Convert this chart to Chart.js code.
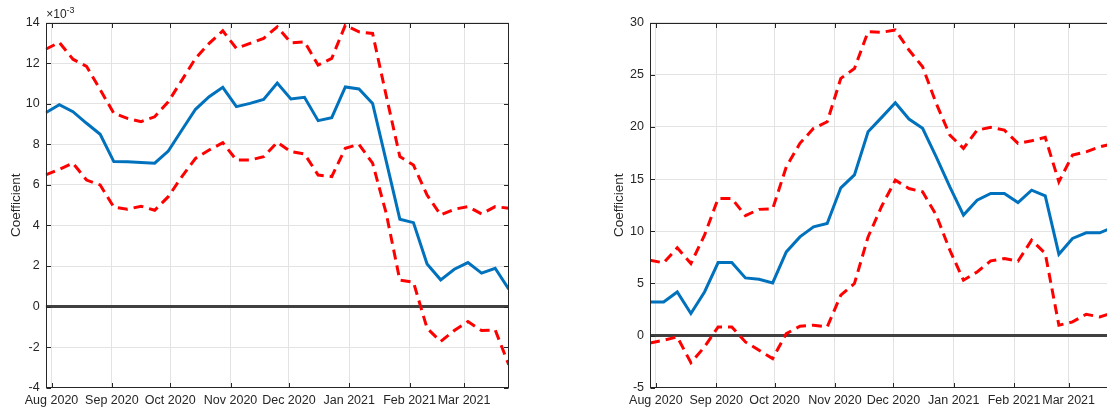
<!DOCTYPE html>
<html>
<head>
<meta charset="utf-8">
<title>Coefficient paths</title>
<script src="https://cdn.jsdelivr.net/npm/chart.js@4.4.0/dist/chart.umd.min.js"></script>
<style>
  html, body { margin: 0; padding: 0; background: #fff; }
  body { width: 1107px; height: 410px; overflow: hidden; position: relative; }
  canvas { position: absolute; top: 0; }
  #leftChart { left: 0; }
  #rightChart { left: 590px; }
</style>
</head>
<body>
<canvas id="leftChart" width="520" height="410"></canvas>
<canvas id="rightChart" width="530" height="410"></canvas>
<script>
// weekly observation dates
const WEEKS = [
  '2020-07-29', '2020-08-05', '2020-08-12', '2020-08-19', '2020-08-26',
  '2020-09-02', '2020-09-09', '2020-09-16', '2020-09-23', '2020-09-30',
  '2020-10-07', '2020-10-14', '2020-10-21', '2020-10-28',
  '2020-11-04', '2020-11-11', '2020-11-18', '2020-11-25',
  '2020-12-02', '2020-12-09', '2020-12-16', '2020-12-23', '2020-12-30',
  '2021-01-06', '2021-01-13', '2021-01-20', '2021-01-27',
  '2021-02-03', '2021-02-10', '2021-02-17', '2021-02-24',
  '2021-03-03', '2021-03-10', '2021-03-17', '2021-03-24',
];

const MONTH_TICKS = ['2020-08-01', '2020-09-01', '2020-10-01', '2020-11-01',
  '2020-12-01', '2021-01-01', '2021-02-01', '2021-03-01'];
const MONTH_LABELS = ['Aug 2020', 'Sep 2020', 'Oct 2020', 'Nov 2020',
  'Dec 2020', 'Jan 2021', 'Feb 2021', 'Mar 2021'];

// left panel, in units of 1e-3
const Y_TICKS_LEFT = [-4, -2, 0, 2, 4, 6, 8, 10, 12, 14];
const COEF_LEFT = [9.56, 9.96, 9.61, 9.04, 8.50, 7.15, 7.14, 7.10, 7.07, 7.67,
  8.71, 9.73, 10.35, 10.81, 9.86, 10.02, 10.22, 11.02, 10.24, 10.32,
  9.17, 9.32, 10.83, 10.73, 10.02, 7.17, 4.31, 4.14, 2.10, 1.32,
  1.84, 2.17, 1.65, 1.89, 0.86];
const UPPER_LEFT = [12.69, 13.03, 12.2, 11.85, 10.7, 9.53, 9.28, 9.12, 9.36, 10.1,
  11.17, 12.24, 12.98, 13.6, 12.73, 12.98, 13.23, 13.8, 13.01, 13.06,
  11.91, 12.24, 13.88, 13.55, 13.47, 10.4, 7.4, 6.98, 5.5, 4.52,
  4.8, 4.93, 4.57, 4.93, 4.85];
const LOWER_LEFT = [6.49, 6.77, 7.07, 6.24, 6.0, 4.9, 4.8, 4.95, 4.75, 5.42,
  6.41, 7.31, 7.72, 8.08, 7.23, 7.23, 7.39, 8.1, 7.64, 7.53,
  6.49, 6.41, 7.81, 8.0, 7.07, 4.6, 1.3, 1.2, -1.07, -1.72,
  -1.18, -0.74, -1.18, -1.15, -2.87];

// right panel
const Y_TICKS_RIGHT = [-5, 0, 5, 10, 15, 20, 25, 30];
const COEF_RIGHT = [3.22, 3.22, 4.18, 2.11, 4.18, 7.0, 7.0, 5.53, 5.40, 5.05,
  8.02, 9.46, 10.42, 10.75, 14.17, 15.4, 19.54, 20.92, 22.32, 20.76,
  19.87, 17.14, 14.26, 11.55, 12.98, 13.63, 13.63, 12.76, 13.94, 13.4,
  7.8, 9.31, 9.85, 9.85, 10.4];
const UPPER_RIGHT = [7.23, 6.97, 8.41, 6.9, 9.63, 13.15, 13.15, 11.5, 12.1, 12.15,
  16.18, 18.43, 19.87, 20.5, 24.66, 25.6, 29.14, 29.08, 29.3, 27.38,
  25.78, 22.26, 19.22, 17.95, 19.7, 19.96, 19.7, 18.43, 18.68, 19.0,
  14.74, 17.3, 17.62, 18.1, 18.4];
const LOWER_RIGHT = [-0.71, -0.45, -0.13, -2.6, -1.09, 0.83, 0.83, -0.61, -1.41, -2.21,
  0.19, 0.89, 0.99, 0.83, 3.87, 4.99, 9.46, 12.4, 14.9, 14.1,
  13.78, 11.55, 8.19, 5.31, 6.1, 7.16, 7.39, 7.13, 9.15, 7.87,
  0.99, 1.31, 2.04, 1.79, 2.2];

const BLUE = '#0072bd';
const RED = '#ff0000';
const AXIS = '#262626';
const FONT = "'Liberation Sans', Arial, Helvetica, sans-serif";

const ORIGIN = Date.parse('2020-08-01');
const dayOf = s => (Date.parse(s) - ORIGIN) / 86400000;
const xs = WEEKS.map(dayOf);
const X_MIN = xs[0];
const X_MAX = xs[xs.length - 1];

Chart.defaults.font.family = FONT;
Chart.defaults.font.size = 12.5;
Chart.defaults.color = AXIS;

// MATLAB-ish box with inward tick marks and optional exponent label
const matlabAxes = {
  id: 'matlabAxes',
  afterDatasetsDraw(chart, args, opts) {
    const { ctx, chartArea: a, scales: { x, y } } = chart;
    const L = Math.round(a.left) + 0.5, R = Math.round(a.right) - 0.5;
    const T = Math.round(a.top) + 0.5, B = Math.round(a.bottom) - 0.5;
    ctx.save();
    ctx.strokeStyle = AXIS;
    ctx.lineWidth = 1;
    ctx.beginPath();
    x.ticks.forEach(t => {
      const px = Math.round(x.getPixelForValue(t.value)) + 0.5;
      ctx.moveTo(px, B); ctx.lineTo(px, B - 4.5);
      ctx.moveTo(px, T); ctx.lineTo(px, T + 4.5);
    });
    y.ticks.forEach(t => {
      const py = Math.round(y.getPixelForValue(t.value)) + 0.5;
      ctx.moveTo(L, py); ctx.lineTo(L + 4.5, py);
      ctx.moveTo(R, py); ctx.lineTo(R - 4.5, py);
    });
    ctx.stroke();
    ctx.strokeRect(L, T, R - L, B - T);
    if (opts.exponent) {
      ctx.fillStyle = AXIS;
      ctx.textBaseline = 'alphabetic';
      ctx.font = `12px ${FONT}`;
      ctx.fillText('\u00d710', a.left + 0.5, a.top - 4.3);
      const w = ctx.measureText('\u00d710').width;
      ctx.font = `9px ${FONT}`;
      ctx.fillText(opts.exponent, a.left + 0.5 + w, a.top - 10);
    }
    ctx.restore();
  },
};

function line(values, color, dashed, order) {
  return {
    data: values.map((v, i) => ({ x: xs[i], y: v })),
    borderColor: color,
    borderWidth: 3,
    borderDash: dashed ? [10, 6] : [],
    pointRadius: 0,
    tension: 0,
    fill: false,
    order,
  };
}

function buildPanel(canvasId, p) {
  const ctx = document.getElementById(canvasId).getContext('2d');
  return new Chart(ctx, {
    type: 'line',
    data: {
      datasets: [
        line(p.upper, RED, true, 2),
        line(p.lower, RED, true, 2),
        line(p.coef, BLUE, false, 1),
        {
          data: [{ x: X_MIN, y: 0 }, { x: X_MAX, y: 0 }],
          borderColor: '#404040',
          borderWidth: 3,
          pointRadius: 0,
          order: 3,
        },
      ],
    },
    options: {
      responsive: false,
      animation: false,
      devicePixelRatio: 1,
      layout: { padding: { top: 22.7, right: p.padRight, left: 0, bottom: 0 } },
      plugins: {
        legend: { display: false },
        tooltip: { enabled: false },
        matlabAxes: { exponent: p.exponent },
      },
      scales: {
        x: {
          type: 'linear',
          min: X_MIN,
          max: X_MAX,
          afterBuildTicks: s => { s.ticks = MONTH_TICKS.map(d => ({ value: dayOf(d) })); },
          afterFit: s => { s.height = 22.3; },
          ticks: {
            autoSkip: false,
            maxRotation: 0,
            padding: 5,
            callback: (v, i) => MONTH_LABELS[i],
          },
          grid: { color: '#e3e3e3', lineWidth: 1, drawTicks: false },
          border: { display: false },
        },
        y: {
          type: 'linear',
          min: p.yTicks[0],
          max: p.yTicks[p.yTicks.length - 1],
          afterBuildTicks: s => { s.ticks = p.yTicks.map(v => ({ value: v })); },
          afterFit: s => { s.width = p.yWidth; },
          ticks: { padding: 6 },
          grid: { color: '#e3e3e3', lineWidth: 1, drawTicks: false },
          border: { display: false },
          title: {
            display: true,
            text: 'Coefficient',
            font: { size: 13.5 },
            padding: { top: p.titlePad, bottom: 0 },
          },
        },
      },
    },
    plugins: [matlabAxes],
  });
}

buildPanel('leftChart', {
  coef: COEF_LEFT, upper: UPPER_LEFT, lower: LOWER_LEFT,
  yTicks: Y_TICKS_LEFT, yWidth: 45.7, padRight: 11.2, titlePad: 8.3, exponent: '-3',
});

buildPanel('rightChart', {
  coef: COEF_RIGHT, upper: UPPER_RIGHT, lower: LOWER_RIGHT,
  yTicks: Y_TICKS_RIGHT, yWidth: 60, padRight: 6.6, titlePad: 21.3, exponent: null,
});
</script>
</body>
</html>
